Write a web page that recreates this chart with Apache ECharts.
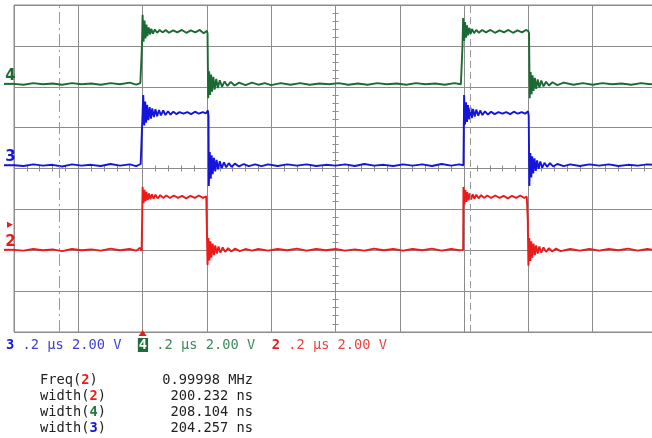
<!DOCTYPE html>
<html>
<head>
<meta charset="utf-8">
<title>scope capture</title>
<script src="https://cdn.jsdelivr.net/npm/echarts@6.0.0/dist/echarts.min.js"></script>
<style>
    html, body { margin: 0; padding: 0; background: #fff; }
    #scope { width: 652px; height: 438px; }
</style>
</head>
<body>
<div id="scope"></div>
<script>
    // time in us from screen centre, level in divisions from screen centre
    var ch4 = [
        [-1.000,2.07],[-0.970,2.05],[-0.940,2.09],[-0.910,2.06],[-0.880,2.08],[-0.850,2.05],[-0.820,2.09],[-0.790,2.06],
        [-0.760,2.08],[-0.730,2.05],[-0.700,2.09],[-0.670,2.06],[-0.640,2.10],[-0.620,2.05],[-0.607,2.09],[-0.604,2.07],
        [-0.602,3.00],[-0.600,3.76],[-0.597,3.10],[-0.594,3.62],[-0.591,3.18],[-0.588,3.52],[-0.585,3.24],[-0.581,3.45],
        [-0.577,3.28],[-0.573,3.42],[-0.568,3.30],[-0.562,3.40],[-0.555,3.32],[-0.547,3.39],[-0.538,3.33],[-0.528,3.39],
        [-0.518,3.32],[-0.505,3.38],[-0.492,3.33],[-0.478,3.39],[-0.464,3.32],[-0.450,3.38],[-0.436,3.33],[-0.422,3.39],
        [-0.410,3.31],[-0.400,3.37],
        [-0.398,3.30],[-0.396,1.72],[-0.393,2.38],[-0.390,1.80],[-0.387,2.30],[-0.384,1.88],[-0.380,2.24],[-0.376,1.93],
        [-0.371,2.19],[-0.366,1.97],[-0.360,2.16],[-0.353,2.00],[-0.345,2.13],[-0.336,2.02],[-0.326,2.12],[-0.314,2.03],
        [-0.300,2.10],[-0.280,2.04],[-0.260,2.10],[-0.240,2.05],[-0.220,2.09],[-0.200,2.04],[-0.170,2.09],[-0.140,2.05],
        [-0.110,2.09],[-0.080,2.05],[-0.050,2.08],[-0.020,2.06],[0.010,2.09],[0.040,2.05],[0.070,2.08],[0.100,2.05],
        [0.130,2.09],[0.160,2.06],[0.190,2.08],[0.220,2.05],[0.250,2.09],[0.280,2.06],[0.310,2.08],[0.340,2.05],
        [0.370,2.09],[0.390,2.06],[0.393,2.08],
        [0.395,3.00],[0.397,3.68],[0.400,3.12],[0.403,3.58],[0.406,3.20],[0.409,3.50],[0.412,3.26],[0.416,3.44],
        [0.420,3.29],[0.425,3.41],[0.431,3.31],[0.438,3.39],[0.446,3.32],[0.456,3.39],[0.468,3.33],[0.482,3.39],
        [0.496,3.32],[0.510,3.38],[0.524,3.33],[0.538,3.39],[0.552,3.32],[0.566,3.38],[0.580,3.33],[0.592,3.39],
        [0.600,3.36],
        [0.602,3.30],[0.604,1.72],[0.607,2.36],[0.610,1.82],[0.613,2.28],[0.616,1.90],[0.620,2.22],[0.624,1.95],
        [0.629,2.18],[0.634,1.98],[0.640,2.15],[0.647,2.01],[0.655,2.12],[0.664,2.03],[0.675,2.11],[0.690,2.04],
        [0.710,2.10],[0.740,2.05],[0.770,2.09],[0.800,2.05],[0.830,2.09],[0.860,2.06],[0.890,2.08],[0.920,2.05],
        [0.950,2.09],[0.980,2.06],[1.000,2.08]
    ];
    var ch3 = [
        [-1.000,0.08],[-0.970,0.06],[-0.940,0.10],[-0.910,0.07],[-0.880,0.09],[-0.850,0.05],[-0.820,0.10],[-0.790,0.07],
        [-0.760,0.09],[-0.730,0.06],[-0.700,0.11],[-0.670,0.07],[-0.640,0.10],[-0.620,0.06],[-0.606,0.11],[-0.600,0.07],
        [-0.598,1.80],[-0.595,1.05],[-0.592,1.64],[-0.589,1.12],[-0.586,1.56],[-0.582,1.18],[-0.578,1.50],[-0.574,1.22],
        [-0.570,1.47],[-0.565,1.26],[-0.560,1.45],[-0.555,1.28],[-0.549,1.43],[-0.543,1.30],[-0.536,1.42],[-0.529,1.31],
        [-0.521,1.40],[-0.513,1.32],[-0.504,1.39],[-0.495,1.33],[-0.485,1.38],[-0.473,1.34],[-0.461,1.38],[-0.449,1.33],
        [-0.437,1.39],[-0.425,1.34],[-0.413,1.38],[-0.403,1.35],[-0.397,1.42],
        [-0.395,1.28],[-0.394,-0.43],[-0.391,0.40],[-0.388,-0.25],[-0.385,0.32],[-0.382,-0.14],[-0.378,0.26],[-0.374,-0.07],
        [-0.370,0.21],[-0.365,-0.02],[-0.360,0.18],[-0.354,0.01],[-0.347,0.15],[-0.340,0.03],[-0.332,0.13],[-0.323,0.04],
        [-0.313,0.12],[-0.300,0.05],[-0.285,0.11],[-0.270,0.06],[-0.250,0.10],[-0.230,0.06],[-0.210,0.10],[-0.180,0.06],
        [-0.150,0.10],[-0.120,0.07],[-0.090,0.10],[-0.060,0.06],[-0.030,0.09],[0.000,0.07],[0.030,0.10],[0.060,0.06],
        [0.090,0.11],[0.120,0.07],[0.150,0.09],[0.180,0.06],[0.210,0.10],[0.240,0.07],[0.270,0.10],[0.300,0.06],
        [0.330,0.11],[0.360,0.07],[0.385,0.10],[0.398,0.08],
        [0.400,1.80],[0.403,1.08],[0.406,1.62],[0.409,1.14],[0.412,1.55],[0.416,1.20],[0.420,1.49],[0.424,1.23],
        [0.428,1.46],[0.433,1.27],[0.438,1.44],[0.444,1.29],[0.450,1.42],[0.457,1.31],[0.465,1.40],[0.474,1.32],
        [0.484,1.39],[0.495,1.33],[0.507,1.38],[0.519,1.34],[0.531,1.38],[0.543,1.33],[0.555,1.39],[0.567,1.34],
        [0.579,1.38],[0.590,1.34],[0.599,1.40],
        [0.601,1.28],[0.603,-0.43],[0.606,0.38],[0.609,-0.22],[0.612,0.30],[0.615,-0.12],[0.619,0.25],[0.623,-0.06],
        [0.627,0.20],[0.632,-0.01],[0.637,0.17],[0.643,0.02],[0.650,0.14],[0.658,0.04],[0.667,0.13],[0.677,0.05],
        [0.690,0.11],[0.710,0.06],[0.730,0.10],[0.760,0.06],[0.790,0.10],[0.820,0.07],[0.850,0.10],[0.880,0.06],
        [0.910,0.09],[0.940,0.07],[0.970,0.10],[1.000,0.08]
    ];
    var ch2 = [
        [-1.000,-1.99],[-0.970,-2.01],[-0.940,-1.97],[-0.910,-2.00],[-0.880,-1.98],[-0.850,-2.02],[-0.820,-1.97],[-0.790,-2.00],
        [-0.760,-1.98],[-0.730,-2.01],[-0.700,-1.96],[-0.670,-2.00],[-0.640,-1.97],[-0.620,-2.01],[-0.608,-1.94],[-0.603,-2.02],
        [-0.601,-1.99],[-0.600,-0.45],[-0.597,-0.85],[-0.594,-0.52],[-0.591,-0.80],[-0.588,-0.57],[-0.584,-0.77],[-0.580,-0.61],
        [-0.576,-0.75],[-0.571,-0.63],[-0.566,-0.74],[-0.560,-0.64],[-0.553,-0.73],[-0.545,-0.65],[-0.536,-0.72],[-0.526,-0.66],
        [-0.515,-0.72],[-0.503,-0.66],[-0.490,-0.72],[-0.477,-0.67],[-0.464,-0.73],[-0.451,-0.67],[-0.438,-0.72],[-0.425,-0.66],
        [-0.412,-0.72],[-0.402,-0.68],
        [-0.399,-0.70],[-0.398,-2.36],[-0.395,-1.70],[-0.392,-2.25],[-0.389,-1.78],[-0.386,-2.18],[-0.382,-1.84],[-0.378,-2.12],
        [-0.374,-1.88],[-0.369,-2.08],[-0.364,-1.91],[-0.358,-2.06],[-0.351,-1.93],[-0.343,-2.04],[-0.334,-1.95],[-0.324,-2.03],
        [-0.312,-1.96],[-0.298,-2.02],[-0.280,-1.97],[-0.260,-2.01],[-0.240,-1.97],[-0.210,-2.01],[-0.180,-1.97],[-0.150,-2.00],
        [-0.120,-1.96],[-0.090,-2.01],[-0.060,-1.97],[-0.030,-2.00],[0.000,-1.97],[0.030,-2.01],[0.060,-1.98],[0.090,-2.01],
        [0.120,-1.96],[0.150,-2.00],[0.180,-1.97],[0.210,-2.01],[0.240,-1.97],[0.270,-2.00],[0.300,-1.96],[0.330,-2.01],
        [0.360,-1.97],[0.385,-2.00],[0.397,-1.99],
        [0.398,-0.45],[0.401,-0.88],[0.404,-0.53],[0.407,-0.82],[0.410,-0.58],[0.414,-0.78],[0.418,-0.61],[0.422,-0.76],
        [0.427,-0.63],[0.432,-0.74],[0.438,-0.64],[0.445,-0.73],[0.453,-0.65],[0.462,-0.72],[0.472,-0.66],[0.484,-0.72],
        [0.497,-0.66],[0.510,-0.72],[0.523,-0.67],[0.536,-0.73],[0.549,-0.67],[0.562,-0.72],[0.575,-0.66],[0.587,-0.72],
        [0.595,-0.69],
        [0.597,-0.70],[0.598,-1.25],[0.600,-2.38],[0.603,-1.70],[0.606,-2.26],[0.609,-1.78],[0.612,-2.18],[0.616,-1.84],
        [0.620,-2.12],[0.624,-1.88],[0.629,-2.08],[0.634,-1.91],[0.640,-2.06],[0.647,-1.93],[0.655,-2.04],[0.664,-1.95],
        [0.674,-2.03],[0.686,-1.96],[0.700,-2.02],[0.730,-1.97],[0.760,-2.01],[0.790,-1.97],[0.820,-2.01],[0.850,-1.97],
        [0.880,-2.00],[0.910,-1.96],[0.940,-2.01],[0.970,-1.97],[1.000,-2.00]
    ];

    var cursorDashDot = -0.857;
    var cursorDashed = 0.418;
    var triggerTime = -0.600;

    var chanNames = ['4', '3', '2'];
    var chanLevels = [2.07, 0.08, -1.99];
    var scaleText = '.2 μs 2.00 V';

    var measNames = ['Freq', 'width', 'width', 'width'];
    var measChan = ['2', '2', '4', '3'];
    var measValues = ['0.99998 MHz', '200.232 ns', '208.104 ns', '204.257 ns'];

    var chanColor = {'4': '#1b6a33', '3': '#1414dc', '2': '#ee1a1a'};
    var gridColor = '#8c8c8c';
    var mono = '"DejaVu Sans Mono", "Liberation Mono", monospace';

    // centre axes with little ticks, pushed into the middle by offset
    function centreX(pos) {
        return {
            type: 'value', min: -1, max: 1, interval: 0.2, position: pos, offset: -163.5,
            axisLine: {show: false},
            axisTick: {show: true, length: 3, lineStyle: {color: gridColor}},
            minorTick: {show: true, splitNumber: 5, length: 3, lineStyle: {color: gridColor}},
            axisLabel: {show: false},
            splitLine: {show: false}
        };
    }
    function centreY(pos) {
        return {
            type: 'value', min: -4, max: 4, interval: 1, position: pos, offset: -321.5,
            axisLine: {show: false},
            axisTick: {show: true, length: 3, lineStyle: {color: gridColor}},
            minorTick: {show: true, splitNumber: 5, length: 3, lineStyle: {color: gridColor}},
            axisLabel: {show: false},
            splitLine: {show: false}
        };
    }

    var scope = echarts.init(document.getElementById('scope'));
    var option = {
        animation: false,
        backgroundColor: '#fff',
        grid: {
            left: 14, top: 5, width: 643, height: 327,
            show: true, borderColor: gridColor, borderWidth: 1,
            containLabel: false, outerBoundsMode: 'none'
        },
        xAxis: [
            {
                type: 'value', min: -1, max: 1, interval: 0.2,
                axisLine: {show: false}, axisTick: {show: false}, axisLabel: {show: false},
                splitLine: {show: true, lineStyle: {color: gridColor, width: 1}}
            },
            centreX('bottom'),
            centreX('top')
        ],
        yAxis: [
            {
                type: 'value', min: -4, max: 4, interval: 1,
                axisLine: {show: false}, axisTick: {show: false}, axisLabel: {show: false},
                splitLine: {show: true, lineStyle: {color: gridColor, width: 1}}
            },
            centreY('left'),
            centreY('right')
        ],
        series: [
            {
                name: '2', type: 'line', data: ch2, showSymbol: false, z: 3,
                lineStyle: {color: chanColor['2'], width: 1.9}, itemStyle: {color: chanColor['2']},
                markLine: {
                    silent: true, symbol: 'none', label: {show: false},
                    data: [
                        {xAxis: cursorDashDot, lineStyle: {color: '#9a9a9a', width: 1, type: [12, 4, 2, 4]}},
                        {xAxis: cursorDashed, lineStyle: {color: '#9a9a9a', width: 1, type: [7, 4]}}
                    ]
                },
                markPoint: {
                    silent: true, symbol: 'triangle', symbolSize: [8, 6], symbolOffset: [0, 1],
                    itemStyle: {color: chanColor['2']}, label: {show: false},
                    data: [{coord: [triggerTime, -4]}]
                }
            },
            {
                name: '3', type: 'line', data: ch3, showSymbol: false, z: 4,
                lineStyle: {color: chanColor['3'], width: 1.9}, itemStyle: {color: chanColor['3']}
            },
            {
                name: '4', type: 'line', data: ch4, showSymbol: false, z: 5,
                lineStyle: {color: chanColor['4'], width: 1.9}, itemStyle: {color: chanColor['4']}
            }
        ]
    };
    scope.setOption(option);

    // channel markers, status line and measurements
    var graphics = [];
    chanNames.forEach(function (name, i) {
        var py = scope.convertToPixel({gridIndex: 0}, [-1, chanLevels[i]])[1];
        graphics.push({
            type: 'line', shape: {x1: 4, y1: py, x2: 15, y2: py},
            style: {stroke: chanColor[name], lineWidth: 2}
        });
        graphics.push({
            type: 'text', x: 10.5, y: py - 8,
            style: {
                text: name, fill: chanColor[name], font: 'bold 15px "DejaVu Sans", sans-serif',
                align: 'center', verticalAlign: 'middle'
            }
        });
        if (name === '2') {
            graphics.push({
                type: 'polygon', shape: {points: [[7, py - 28], [7, py - 22], [13, py - 25]]},
                style: {fill: chanColor[name]}
            });
        }
    });

    var statusRich = {
        n3: {fill: '#1a1ae0', fontWeight: 'bold', fontFamily: mono, fontSize: 13.7},
        t3: {fill: '#3d3fd6', fontFamily: mono, fontSize: 13.7},
        n4: {fill: '#fff', backgroundColor: '#1f6b3a', fontWeight: 'bold', fontFamily: mono, fontSize: 13.7, padding: [0, 1, 0, 1]},
        t4: {fill: '#3f8a5c', fontFamily: mono, fontSize: 13.7},
        n2: {fill: '#ee1a1a', fontWeight: 'bold', fontFamily: mono, fontSize: 13.7},
        t2: {fill: '#ea4444', fontFamily: mono, fontSize: 13.7}
    };
    graphics.push({
        type: 'text', x: 6, y: 345,
        style: {
            text: '{n3|3}{t3| ' + scaleText + '  }{n4|4}{t4| ' + scaleText + '  }{n2|2}{t2| ' + scaleText + '}',
            rich: statusRich, verticalAlign: 'middle', font: '13.7px ' + mono
        }
    });

    var measRich = {
        l: {fill: '#222', fontFamily: mono, fontSize: 13.7},
        c2: {fill: chanColor['2'], fontWeight: 'bold', fontFamily: mono, fontSize: 13.7},
        c3: {fill: chanColor['3'], fontWeight: 'bold', fontFamily: mono, fontSize: 13.7},
        c4: {fill: '#1d7a3a', fontWeight: 'bold', fontFamily: mono, fontSize: 13.7}
    };
    measNames.forEach(function (name, i) {
        var rowY = 380 + i * 16;
        graphics.push({
            type: 'text', x: 40, y: rowY,
            style: {
                text: '{l|' + name + '(}{c' + measChan[i] + '|' + measChan[i] + '}{l|)}',
                rich: measRich, verticalAlign: 'middle', font: '13.7px ' + mono
            }
        });
        graphics.push({
            type: 'text', x: 253, y: rowY,
            style: {
                text: measValues[i], fill: '#222', font: '13.7px ' + mono,
                align: 'right', verticalAlign: 'middle'
            }
        });
    });

    scope.setOption({graphic: graphics});
</script>
</body>
</html>
